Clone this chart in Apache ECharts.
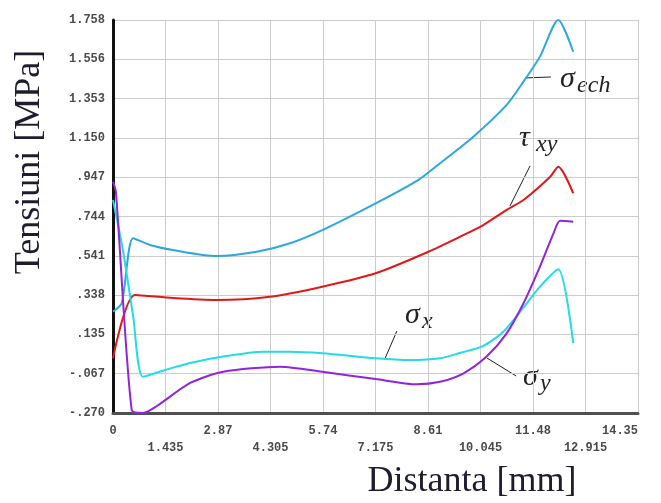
<!DOCTYPE html>
<html>
<head>
<meta charset="utf-8">
<title>Tensiuni</title>
<script src="https://cdn.jsdelivr.net/npm/echarts@6/dist/echarts.min.js"></script>
<style>
  html, body { margin: 0; padding: 0; background: #fff; }
  .geo { width: 661px; height: 503px; }
</style>
</head>
<body>
<div class="geo"></div>
<script>
// tick labels, as printed on the picture
var xLabels = ['0', '1.435', '2.87', '4.305', '5.74', '7.175', '8.61', '10.045', '11.48', '12.915', '14.35'];
var yLabels = ['-.270', '-.067', '.135', '.338', '.541', '.744', '.947', '1.150', '1.353', '1.556', '1.758'];

// sigma ech (blue)
var echX = [0, 0.24, 0.55, 1.01, 1.64, 2.83, 3.93, 4.84, 5.72, 7.18, 8.34, 8.94, 9.85, 10.76, 11.22, 11.67, 12.17, 12.58];
var echY = [0.253, 0.298, 0.632, 0.597, 0.571, 0.540, 0.562, 0.606, 0.674, 0.812, 0.932, 1.019, 1.156, 1.32, 1.44, 1.569, 1.758, 1.594];

// tau xy (red)
var tauX = [0, 0.60, 1.64, 2.83, 4.29, 5.72, 7.18, 8.62, 9.49, 10.12, 10.76, 11.22, 11.95, 12.17, 12.58];
var tauY = [0.012, 0.339, 0.323, 0.313, 0.330, 0.382, 0.451, 0.562, 0.640, 0.700, 0.778, 0.829, 0.949, 1.001, 0.864];

// sigma x (cyan)
var sxX = [0, 0.27, 0.55, 0.82, 1.42, 2.11, 3.01, 4.10, 4.84, 5.72, 7.18, 8.12, 8.94, 9.48, 10.11, 10.66, 11.21, 11.67, 12.17, 12.58];
var sxY = [0.829, 0.571, 0.231, -0.083, -0.048, -0.012, 0.021, 0.046, 0.046, 0.038, 0.012, 0.003, 0.012, 0.040, 0.075, 0.148, 0.272, 0.382, 0.472, 0.090];

// sigma y (purple)
var syX = [0, 0.08, 0.51, 0.82, 1.20, 2.11, 3.01, 4.57, 5.72, 7.18, 8.30, 8.94, 9.58, 10.21, 10.76, 11.22, 11.67, 12.04, 12.22, 12.58];
var syY = [0.924, 0.870, -0.254, -0.270, -0.234, -0.115, -0.057, -0.031, -0.057, -0.095, -0.122, -0.109, -0.065, 0.021, 0.141, 0.296, 0.485, 0.657, 0.722, 0.717];

// annotations: symbol, subscript, leader line (data coords), text anchor (data coords)
var noteMain = ['σ', 'τ', 'σ', 'σ'];
var noteSub = ['ech', 'xy', 'x', 'y'];
var noteFrom = [[11.26, 1.459], [10.85, 0.798], [7.43, 0.009], [10.22, 0.014]];
var noteTo = [[11.97, 1.464], [11.40, 1.005], [7.76, 0.153], [11.02, -0.079]];
var noteAt = [[12.22, 1.454], [11.10, 1.149], [7.98, 0.236], [11.21, -0.085]];

(function() {
  var myChart = echarts.init(document.querySelector('.geo'));

  var xMin = 0, xMax = 14.35, xStep = 1.435;
  var yMin = -0.27, yMax = 1.758, yStep = 0.2028;

  function pairs(xs, ys) {
    var res = [];
    for (var i = 0; i < xs.length; i++) {
      res.push([xs[i], ys[i]]);
    }
    return res;
  }

  function line(name, color, xs, ys) {
    return {
      name: name,
      type: 'line',
      xAxisIndex: 0,
      data: pairs(xs, ys),
      showSymbol: false,
      smooth: 0.25,
      lineStyle: { color: color, width: 2 },
      itemStyle: { color: color }
    };
  }

  var tickFont = {
    color: '#4a4a4a',
    fontFamily: 'Liberation Mono',
    fontWeight: 'bold',
    fontSize: 12
  };

  // x labels are staggered: even ticks on the first row, odd ticks on the second
  function xRow(odd) {
    return function(v) {
      var i = Math.round((v - xMin) / xStep);
      if ((i % 2 === 1) !== odd) return '';
      return xLabels[i] !== undefined ? xLabels[i] : String(v);
    };
  }

  var option = {
    animation: false,
    backgroundColor: '#fff',
    grid: { left: 113, right: 23, top: 20, bottom: 90 },
    xAxis: [
      {
        type: 'value',
        min: xMin,
        max: xMax,
        interval: xStep,
        axisLine: { show: true, onZero: false, lineStyle: { color: '#505050', width: 3 } },
        axisTick: { show: false },
        splitLine: { show: true, lineStyle: { color: '#cccccc', width: 1 } },
        axisLabel: Object.assign({
          margin: 12,
          showMinLabel: true,
          showMaxLabel: true,
          alignMaxLabel: 'right',
          formatter: xRow(false)
        }, tickFont)
      },
      {
        type: 'value',
        position: 'bottom',
        offset: 17,
        min: xMin,
        max: xMax,
        interval: xStep,
        axisLine: { show: false },
        axisTick: { show: false },
        splitLine: { show: false },
        axisLabel: Object.assign({
          margin: 12,
          showMinLabel: true,
          showMaxLabel: true,
          formatter: xRow(true)
        }, tickFont)
      }
    ],
    yAxis: {
      type: 'value',
      min: yMin,
      max: yMax,
      interval: yStep,
      axisLine: { show: true, onZero: false, lineStyle: { color: '#111', width: 3 } },
      axisTick: { show: false },
      splitLine: { show: true, lineStyle: { color: '#cccccc', width: 1 } },
      axisLabel: Object.assign({
        margin: 8,
        showMinLabel: true,
        showMaxLabel: true,
        formatter: function(v) {
          var i = Math.round((v - yMin) / yStep);
          return yLabels[i] !== undefined ? yLabels[i] : String(v);
        }
      }, tickFont)
    },
    series: [
      line('σech', '#2ea8dc', echX, echY),
      line('τxy', '#e01818', tauX, tauY),
      line('σx', '#22dce6', sxX, sxY),
      line('σy', '#9224dc', syX, syY)
    ],
    graphic: [
      {
        type: 'text',
        x: 30,
        y: 162,
        rotation: Math.PI / 2,
        style: {
          text: 'Tensiuni [MPa]',
          font: '36px "Liberation Serif"',
          fill: '#1d1d2e',
          textAlign: 'center',
          textVerticalAlign: 'middle'
        }
      },
      {
        type: 'text',
        x: 472,
        y: 482,
        style: {
          text: 'Distanta [mm]',
          font: '36px "Liberation Serif"',
          fill: '#1d1d2e',
          textAlign: 'center',
          textVerticalAlign: 'middle'
        }
      }
    ]
  };
  myChart.setOption(option);

  // annotations placed through the grid's own scale
  var notes = [];
  for (var i = 0; i < noteMain.length; i++) {
    var a = myChart.convertToPixel({ xAxisIndex: 0, yAxisIndex: 0 }, noteFrom[i]);
    var b = myChart.convertToPixel({ xAxisIndex: 0, yAxisIndex: 0 }, noteTo[i]);
    var p = myChart.convertToPixel({ xAxisIndex: 0, yAxisIndex: 0 }, noteAt[i]);
    notes.push({
      type: 'line',
      shape: { x1: a[0], y1: a[1], x2: b[0], y2: b[1] },
      style: { stroke: '#222', lineWidth: 1 }
    });
    notes.push({
      type: 'text',
      x: p[0],
      y: p[1],
      style: {
        text: noteMain[i],
        font: 'italic 30px "Liberation Serif"',
        fill: '#222',
        textAlign: 'left',
        textVerticalAlign: 'middle'
      }
    });
    notes.push({
      type: 'text',
      x: p[0] + 17,
      y: p[1] + 7,
      style: {
        text: noteSub[i],
        font: 'italic 24px "Liberation Serif"',
        fill: '#222',
        textAlign: 'left',
        textVerticalAlign: 'middle'
      }
    });
  }
  myChart.setOption({ graphic: option.graphic.concat(notes) });

  window.addEventListener('resize', function() {
    myChart.resize();
  });
})();
</script>
</body>
</html>
